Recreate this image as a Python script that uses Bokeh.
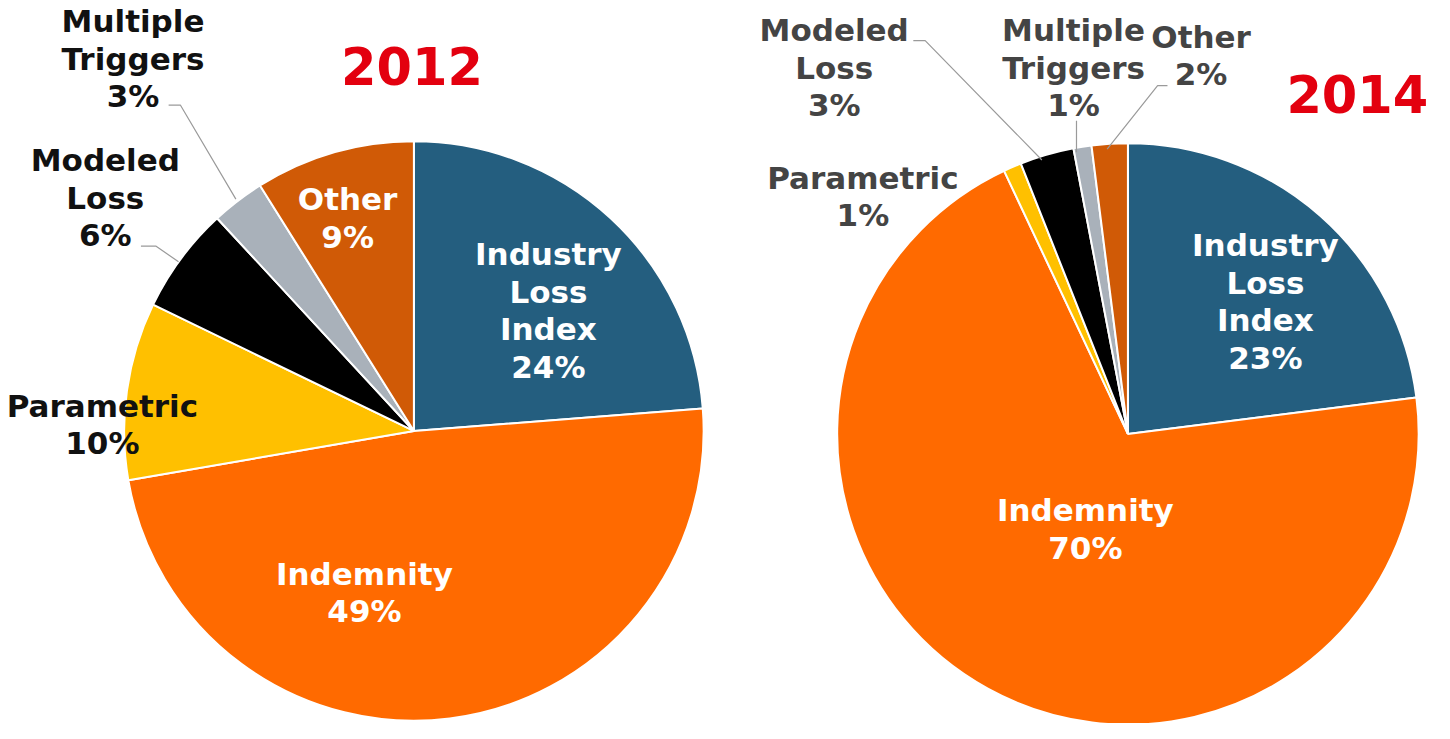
import math
from bokeh.plotting import figure
from bokeh.models import Range1d
from bokeh.core.properties import value
from bokeh.embed import file_html
from bokeh.resources import INLINE

# ---- data ----
categories = ["Industry Loss Index", "Indemnity", "Parametric", "Modeled Loss", "Multiple Triggers", "Other"]
values_2012 = [24, 49, 10, 6, 3, 9]
values_2014 = [23, 70, 1, 3, 1, 2]
colors = ["#245E7F", "#FF6A00", "#FFC000", "#000000", "#A9B1BA", "#D05A06"]
years = ["2012", "2014"]

# label texts (lines) per slice
label_lines = {
    "Industry Loss Index": ["Industry", "Loss", "Index"],
    "Indemnity": ["Indemnity"],
    "Parametric": ["Parametric"],
    "Modeled Loss": ["Modeled", "Loss"],
    "Multiple Triggers": ["Multiple", "Triggers"],
    "Other": ["Other"],
}

# ---- layout (reference pixel coordinates, 1450 x 739) ----
W, H = 1434, 723
REF_W, REF_H = 1450, 739
centers = {"2012": (418, 440, 293), "2014": (1140, 443, 294)}
# first-line centre of each label
label_pos = {
    "2012": [(554, 259), (368, 586), (103, 414), (106, 163), (134, 21), (351, 203)],
    "2014": [(1279, 250), (1097, 521), (872, 181), (843, 30), (1085, 30), (1214, 37)],
}
inside = {"2012": [True, True, False, False, False, True],
          "2014": [True, True, False, False, False, False]}
outside_color = {"2012": "#111111", "2014": "#444444"}
title_pos = {"2012": (416, 67), "2014": (1372, 96)}
leaders = {
    "2012": [[(170, 107), (182, 107), (238, 203)], [(142, 251), (157, 251), (180, 267)]],
    "2014": [[(923, 41), (935, 41), (1053, 163)], [(1088, 123), (1088, 155)],
             [(1180, 87), (1170, 87), (1119, 152)]],
}
LINE_SP = 38.5
FONT = value("DejaVu Sans")


def Y(py):
    return REF_H - py


p = figure(width=W, height=H, output_backend="svg", toolbar_location=None,
           x_range=Range1d(0, REF_W), y_range=Range1d(0, REF_H),
           x_axis_location=None, y_axis_location=None,
           min_border=0, min_border_left=0, min_border_right=0,
           min_border_top=0, min_border_bottom=0)
p.grid.visible = False
p.outline_line_color = None
p.background_fill_color = "white"

for yr, vals in (("2012", values_2012), ("2014", values_2014)):
    cx, cy, r = centers[yr]
    total = float(sum(vals))
    cum = 0.0
    starts, ends = [], []
    for v in vals:
        f0 = cum / total
        cum += v
        f1 = cum / total
        starts.append(math.pi / 2 - 2 * math.pi * f0)
        ends.append(math.pi / 2 - 2 * math.pi * f1)
    p.wedge(x=[cx] * len(vals), y=[Y(cy)] * len(vals), radius=r,
            start_angle=starts, end_angle=ends, direction="clock",
            fill_color=colors, line_color="white", line_width=2)

    # leader lines
    for pts in leaders[yr]:
        p.line([q[0] for q in pts], [Y(q[1]) for q in pts], line_color="#9A9A9A", line_width=1.2)

    # labels
    for i, cat in enumerate(categories):
        lines = label_lines[cat] + [f"{vals[i]}%"]
        x0, y0 = label_pos[yr][i]
        col = "white" if inside[yr][i] else outside_color[yr]
        xs = [x0] * len(lines)
        ys = [Y(y0 + k * LINE_SP) for k in range(len(lines))]
        p.text(x=xs, y=ys, text=lines, text_align="center", text_baseline="middle",
               text_font=FONT, text_font_style="bold", text_font_size="31px",
               text_color=col)

    tx, ty = title_pos[yr]
    p.text(x=[tx], y=[Y(ty)], text=[yr], text_align="center", text_baseline="middle",
           text_font=FONT, text_font_style="bold", text_font_size="51px",
           text_color="#E3000F")

open("out.html", "w").write(file_html(p, INLINE))
